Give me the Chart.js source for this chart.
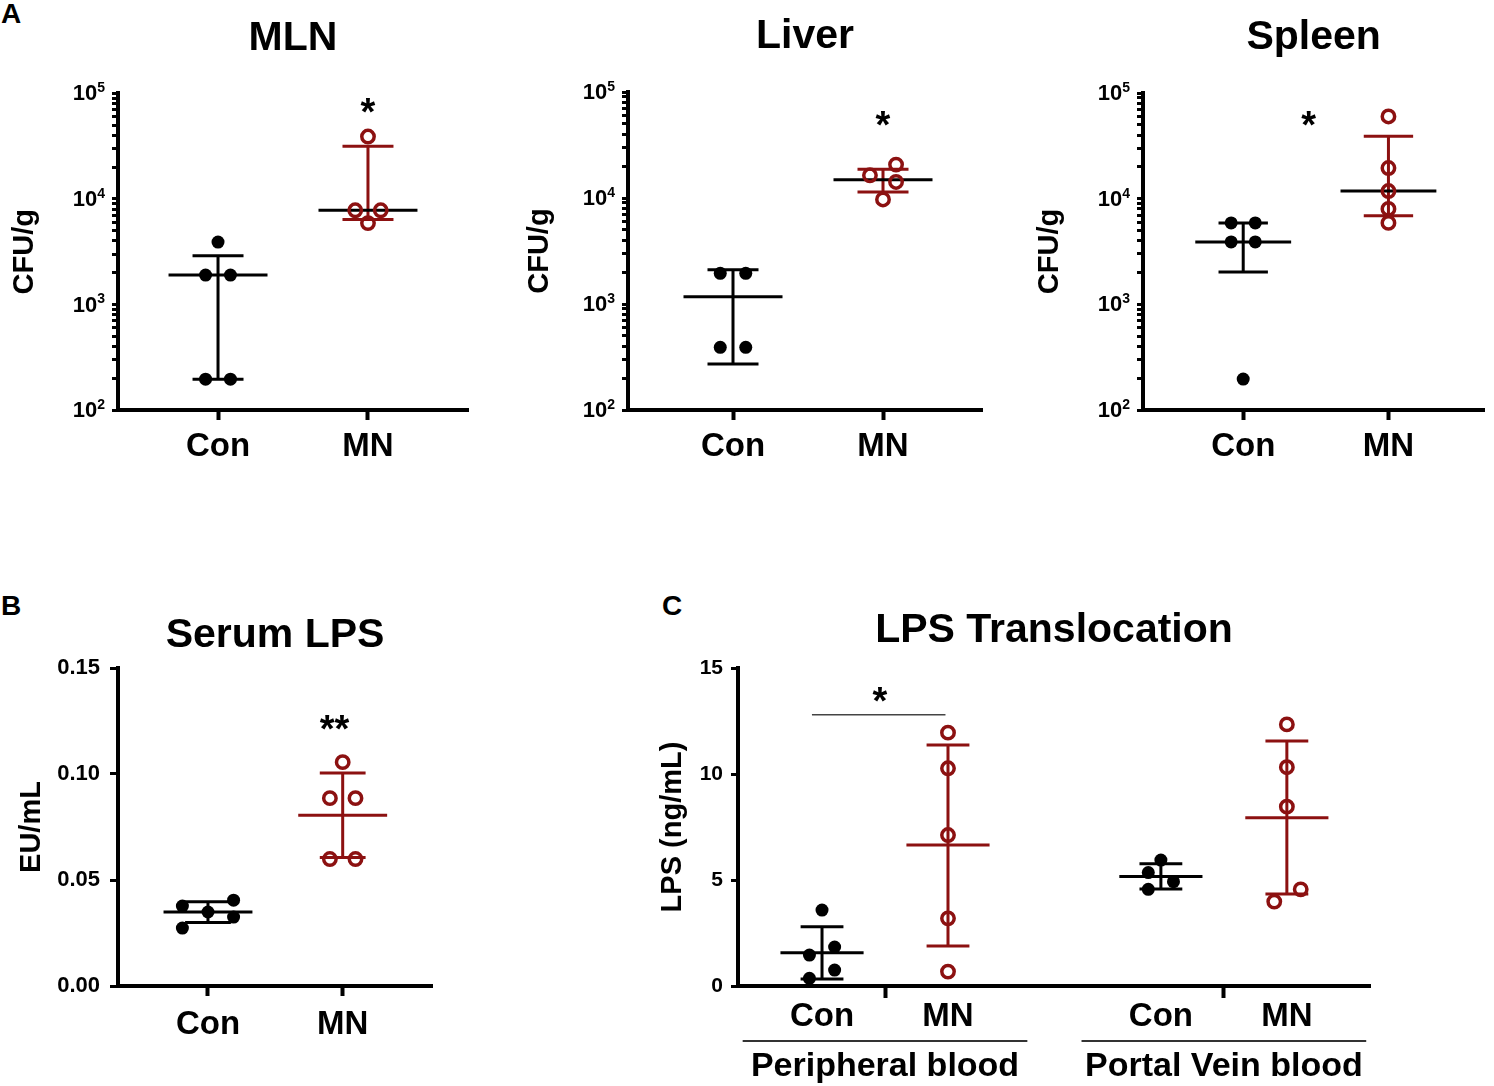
<!DOCTYPE html>
<html lang="en">
<head>
<meta charset="UTF-8">
<meta name="viewport" content="width=device-width, initial-scale=1">
<title>Bacterial and LPS translocation</title>
<script src="https://cdn.jsdelivr.net/npm/chart.js"></script>
<style>
  html, body { margin: 0; padding: 0; background: #fff; }
  body { position: relative; width: 1494px; height: 1086px; overflow: hidden; font-family: 'Liberation Sans', Arial, sans-serif; }
  .box { position: absolute; }
  .letter { position: absolute; font-size: 28px; font-weight: bold; color: #000; line-height: 1; }
</style>
</head>
<body>
  <div class="letter" style="left:1px; top:0px">A</div>
  <div class="letter" style="left:1px; top:592px">B</div>
  <div class="letter" style="left:662px; top:592px">C</div>

  <div class="box" style="left:0; top:0; width:490px; height:490px"><canvas id="chartMLN"></canvas></div>
  <div class="box" style="left:510px; top:0; width:490px; height:490px"><canvas id="chartLiver"></canvas></div>
  <div class="box" style="left:1025px; top:0; width:469px; height:490px"><canvas id="chartSpleen"></canvas></div>
  <div class="box" style="left:0; top:580px; width:470px; height:506px"><canvas id="chartSerum"></canvas></div>
  <div class="box" style="left:640px; top:580px; width:854px; height:506px"><canvas id="chartTrans"></canvas></div>

  <script>
    // ---- A: bacterial load, CFU/g (log axis) ----
    const groupLabels = ['Con', 'MN'];
    const cfuDecades = [100, 1000, 10000, 100000];
    const cfuBase = '10';
    const cfuExponents = ['2', '3', '4', '5'];

    const mlnCon = [3900, 1900, 1900, 196, 196];
    const mlnMN = [39000, 7800, 7800, 5900];
    const mlnMedian = [1900, 7800];
    const mlnLow = [196, 6400];
    const mlnHigh = [2900, 31500];
    const mlnStar = [1, 80000];

    const liverCon = [1950, 1950, 390, 390];
    const liverMN = [16400, 20700, 14200, 9700];
    const liverMedian = [1170, 14900];
    const liverLow = [272, 11400];
    const liverHigh = [2110, 18700];
    const liverStar = [1, 58000];

    const spleenCon = [5900, 5900, 3900, 3900, 196];
    const spleenMN = [60000, 19500, 11800, 8000, 5900];
    const spleenMedian = [3900, 11800];
    const spleenLow = [2020, 6900];
    const spleenHigh = [5900, 39000];
    const spleenStar = [0.45, 59300];

    // ---- B: serum LPS, EU/mL ----
    const serumTicks = [0, 0.05, 0.10, 0.15];
    const serumTickLabels = ['0.00', '0.05', '0.10', '0.15'];
    const serumCon = [0.0377, 0.0349, 0.0405, 0.0325, 0.0273];
    const serumMN = [0.1056, 0.0886, 0.0886, 0.0599, 0.0599];
    const serumCentre = [0.0349, 0.0806];
    const serumLow = [0.0300, 0.0606];
    const serumHigh = [0.0397, 0.1005];
    const serumStar = [0.94, 0.1250];

    // ---- C: LPS translocation, ng/mL ----
    const transGroups = ['Peripheral blood', 'Portal Vein blood'];
    const transLabels = ['Con', 'MN', 'Con', 'MN'];
    const transTicks = [0, 5, 10, 15];
    const transTickLabels = ['0', '5', '10', '15'];
    const periCon = [3.58, 1.46, 1.84, 0.75, 0.36];
    const periMN = [11.95, 10.27, 7.12, 3.19, 0.68];
    const portalCon = [5.94, 5.35, 4.92, 4.56];
    const portalMN = [12.34, 10.32, 8.46, 4.56, 3.98];
    const transMean = [1.57, 6.65, 5.16, 7.94];
    const transLow = [0.33, 1.89, 4.58, 4.34];
    const transHigh = [2.80, 11.37, 5.77, 11.56];
    const transStar = [0.46, 13.8];
    const transBracket = [-0.08, 0.98, 12.8];

    // layout: where the groups sit on the x axis and how the dots are spread sideways
    const groupX = [0, 1];
    const transX = [0, 1, 2.69, 3.69];
    const transSeparators = [0.5, 3.19];
    const mlnSpread = [[0, -0.083, 0.083, -0.083, 0.083], [0, -0.085, 0.085, 0]];
    const liverSpread = [[-0.085, 0.085, -0.085, 0.085], [-0.087, 0.087, 0.087, 0]];
    const spleenSpread = [[-0.083, 0.083, -0.083, 0.083, 0], [0, 0, 0, 0, 0]];
    const serumSpread = [[-0.19, 0, 0.19, 0.19, -0.19], [0, -0.095, 0.095, -0.095, 0.095]];
    const transSpread = [[0, -0.1, 0.1, 0.1, -0.1], [0, 0, 0, 0, 0], [0, -0.1, 0.1, -0.1], [0, 0, 0, 0.11, -0.1]];

    const FONT = "'Liberation Sans', Arial, Helvetica, sans-serif";
    const RED = '#8c1111';
    const CAP = 0.17;
    const MID = 0.33;
    Chart.defaults.font.family = FONT;
    Chart.defaults.color = '#000';

    function place(values, gx, spread) {
      return values.map((v, i) => ({ x: gx + spread[i], y: v }));
    }

    function filledSet(data) {
      return { data, clip: false, pointRadius: 6.5, pointHoverRadius: 6.5, pointBackgroundColor: '#000', pointBorderWidth: 0 };
    }

    function openSet(data) {
      return { data, clip: false, pointRadius: 6.2, pointHoverRadius: 6.2, pointBackgroundColor: 'rgba(0,0,0,0)', pointBorderColor: RED, pointBorderWidth: 3.5 };
    }

    // median / mean lines with whiskers, drawn with the chart's own scales
    function summaryBars(xs, centre, low, high, barColors, centreColors) {
      return {
        id: 'summaryBars',
        beforeDatasetsDraw(chart) {
          const { ctx, scales: { x, y } } = chart;
          const unit = x.getPixelForValue(1) - x.getPixelForValue(0);
          ctx.save();
          ctx.lineWidth = 3;
          xs.forEach((gx, i) => {
            const px = x.getPixelForValue(gx);
            const yl = y.getPixelForValue(low[i]);
            const yh = y.getPixelForValue(high[i]);
            const yc = y.getPixelForValue(centre[i]);
            ctx.strokeStyle = barColors[i];
            ctx.beginPath();
            ctx.moveTo(px, yl); ctx.lineTo(px, yh);
            ctx.moveTo(px - CAP * unit, yl); ctx.lineTo(px + CAP * unit, yl);
            ctx.moveTo(px - CAP * unit, yh); ctx.lineTo(px + CAP * unit, yh);
            ctx.stroke();
            ctx.strokeStyle = centreColors[i];
            ctx.beginPath();
            ctx.moveTo(px - MID * unit, yc); ctx.lineTo(px + MID * unit, yc);
            ctx.stroke();
          });
          ctx.restore();
        }
      };
    }

    // significance asterisks (and the bracket line in panel C)
    function stars(pos, text, bracket) {
      return {
        id: 'stars',
        afterDatasetsDraw(chart) {
          const { ctx, scales: { x, y } } = chart;
          ctx.save();
          if (bracket) {
            const by = y.getPixelForValue(bracket[2]);
            ctx.strokeStyle = '#444';
            ctx.lineWidth = 1.5;
            ctx.beginPath();
            ctx.moveTo(x.getPixelForValue(bracket[0]), by);
            ctx.lineTo(x.getPixelForValue(bracket[1]), by);
            ctx.stroke();
          }
          ctx.fillStyle = '#000';
          ctx.font = 'bold 38px ' + FONT;
          ctx.textAlign = 'center';
          ctx.textBaseline = 'alphabetic';
          ctx.fillText(text, x.getPixelForValue(pos[0]), y.getPixelForValue(pos[1]) + 0.55 * 38);
          ctx.restore();
        }
      };
    }

    // "10" with a raised exponent on each decade of the log axis
    const powerLabels = {
      id: 'powerLabels',
      afterDraw(chart) {
        const { ctx, scales: { y } } = chart;
        const right = y.right - 13;
        ctx.save();
        ctx.fillStyle = '#000';
        ctx.textAlign = 'right';
        ctx.textBaseline = 'middle';
        cfuDecades.forEach((d, i) => {
          const py = y.getPixelForValue(d);
          ctx.font = 'bold 14px ' + FONT;
          const ew = ctx.measureText(cfuExponents[i]).width;
          ctx.fillText(cfuExponents[i], right, py - 5);
          ctx.font = 'bold 22px ' + FONT;
          ctx.fillText(cfuBase, right - ew, py + 1);
        });
        ctx.restore();
      }
    };

    // group names under the x axis of panel C
    const groupNames = {
      id: 'groupNames',
      afterDraw(chart) {
        const { ctx, chartArea, scales: { x } } = chart;
        const unit = x.getPixelForValue(1) - x.getPixelForValue(0);
        ctx.save();
        transGroups.forEach((name, i) => {
          const cx = x.getPixelForValue(transSeparators[i]);
          ctx.strokeStyle = '#333';
          ctx.lineWidth = 2;
          ctx.beginPath();
          ctx.moveTo(cx - 1.13 * unit, chartArea.bottom + 55);
          ctx.lineTo(cx + 1.13 * unit, chartArea.bottom + 55);
          ctx.stroke();
          ctx.fillStyle = '#000';
          ctx.font = 'bold 34px ' + FONT;
          ctx.textAlign = 'center';
          ctx.textBaseline = 'middle';
          ctx.fillText(name, cx, chartArea.bottom + 81);
        });
        ctx.restore();
      }
    };

    function xScale(o) {
      return {
        type: 'linear', min: o.min, max: o.max,
        afterBuildTicks: s => { s.ticks = o.ticks.map(v => ({ value: v })); },
        afterFit: s => { s.height = o.height; },
        ticks: {
          autoSkip: false, maxRotation: 0, minRotation: 0, padding: o.pad, color: '#000',
          font: { size: 33, weight: 'bold' },
          callback: (v, i) => o.labels[i]
        },
        grid: { drawOnChartArea: false, drawTicks: true, tickLength: o.tickLength, tickWidth: 4, tickColor: o.tickColor || '#000' },
        border: { display: true, width: 4, color: '#000' }
      };
    }

    function yScale(o) {
      return {
        type: o.type, min: o.min, max: o.max,
        afterBuildTicks: s => { s.ticks = o.ticks.map(v => ({ value: v })); },
        afterFit: s => { s.width = o.width; },
        ticks: {
          autoSkip: false, padding: o.pad, color: '#000',
          font: { size: o.fontSize || 21, weight: 'bold' },
          callback: o.label
        },
        grid: { drawOnChartArea: false, drawTicks: true, tickLength: o.tickLength, tickWidth: 3, tickColor: '#000' },
        border: { display: true, width: 4, color: '#000' },
        title: {
          display: true, text: o.title, color: '#000',
          font: { size: 29, weight: 'bold' },
          padding: { top: o.titlePad, bottom: 0 }
        }
      };
    }

    function options(o) {
      return {
        responsive: true,
        maintainAspectRatio: false,
        animation: false,
        events: [],
        layout: { padding: { left: 0, right: o.padRight, top: 0, bottom: 0 } },
        plugins: {
          legend: { display: false },
          tooltip: { enabled: false },
          title: {
            display: true, text: o.title, fullSize: false, color: '#000',
            font: { size: 41, weight: 'bold' },
            padding: { top: o.titleTop, bottom: o.titleBottom }
          }
        },
        scales: { x: o.x, y: o.y }
      };
    }

    // minor tick marks 1..9 x each decade; the decade labels come from powerLabels
    const cfuTicks = [];
    cfuDecades.forEach((d, i) => {
      if (i === cfuDecades.length - 1) { cfuTicks.push(d); return; }
      for (let k = 1; k <= 9; k++) cfuTicks.push(d * k);
    });

    function cfuPanel(id, title, con, mn, spread, median, low, high, star, lay) {
      return new Chart(document.getElementById(id), {
        type: 'scatter',
        data: {
          datasets: [
            filledSet(place(con, groupX[0], spread[0])),
            openSet(place(mn, groupX[1], spread[1]))
          ]
        },
        options: options({
          title, padRight: lay.padRight, titleTop: lay.titleTop, titleBottom: lay.titleBottom,
          x: xScale({ min: lay.xMin, max: lay.xMax, ticks: groupX, labels: groupLabels, height: 80, pad: 7, tickLength: 10 }),
          y: yScale({
            type: 'logarithmic', min: cfuDecades[0], max: cfuDecades[cfuDecades.length - 1],
            ticks: cfuTicks, label: () => '', width: 118, pad: 8, tickLength: 6,
            title: 'CFU/g', titlePad: lay.yTitlePad
          })
        }),
        plugins: [
          summaryBars(groupX, median, low, high, ['#000', RED], ['#000', '#000']),
          stars(star, '*'),
          powerLabels
        ]
      });
    }

    cfuPanel('chartMLN', 'MLN', mlnCon, mlnMN, mlnSpread, mlnMedian, mlnLow, mlnHigh, mlnStar,
      { padRight: 22, titleTop: 14, titleBottom: 30.2, xMin: -0.667, xMax: 1.667, yTitlePad: 7.6 });
    cfuPanel('chartLiver', 'Liver', liverCon, liverMN, liverSpread, liverMedian, liverLow, liverHigh, liverStar,
      { padRight: 18, titleTop: 12.4, titleBottom: 30.5, xMin: -0.7, xMax: 1.66, yTitlePad: 12.6 });
    cfuPanel('chartSpleen', 'Spleen', spleenCon, spleenMN, spleenSpread, spleenMedian, spleenLow, spleenHigh, spleenStar,
      { padRight: 0, titleTop: 13.2, titleBottom: 30.6, xMin: -0.69, xMax: 1.66, yTitlePad: 7.6 });

    new Chart(document.getElementById('chartSerum'), {
      type: 'scatter',
      data: {
        datasets: [
          filledSet(place(serumCon, groupX[0], serumSpread[0])),
          openSet(place(serumMN, groupX[1], serumSpread[1]))
        ]
      },
      options: options({
        title: 'Serum LPS', padRight: 38, titleTop: 30.6, titleBottom: 8.2,
        x: xScale({ min: -0.668, max: 1.663, ticks: groupX, labels: groupLabels, height: 100, pad: 9, tickLength: 10 }),
        y: yScale({
          type: 'linear', min: serumTicks[0], max: serumTicks[serumTicks.length - 1],
          ticks: serumTicks, label: (v, i) => serumTickLabels[i], width: 118, pad: 10, tickLength: 8, fontSize: 22,
          title: 'EU/mL', titlePad: 14.3
        })
      }),
      plugins: [
        summaryBars(groupX, serumCentre, serumLow, serumHigh, ['#000', RED], ['#000', RED]),
        stars(serumStar, '**')
      ]
    });

    const transTickPos = [transX[0], transSeparators[0], transX[1], transX[2], transSeparators[1], transX[3]];
    const transTickText = [transLabels[0], '', transLabels[1], transLabels[2], '', transLabels[3]];

    new Chart(document.getElementById('chartTrans'), {
      type: 'scatter',
      data: {
        datasets: [
          filledSet(place(periCon, transX[0], transSpread[0])),
          openSet(place(periMN, transX[1], transSpread[1])),
          filledSet(place(portalCon, transX[2], transSpread[2])),
          openSet(place(portalMN, transX[3], transSpread[3]))
        ]
      },
      options: options({
        title: 'LPS Translocation', padRight: 124, titleTop: 25.6, titleBottom: 13.2,
        x: xScale({
          min: -0.667, max: 4.35, ticks: transTickPos, labels: transTickText, height: 100, pad: -1, tickLength: 12,
          tickColor: c => transSeparators.includes(c.tick && c.tick.value) ? '#000' : 'rgba(0,0,0,0)'
        }),
        y: yScale({
          type: 'linear', min: transTicks[0], max: transTicks[transTicks.length - 1],
          ticks: transTicks, label: (v, i) => transTickLabels[i], width: 98, pad: 8, tickLength: 7,
          title: 'LPS (ng/mL)', titlePad: 15.6
        })
      }),
      plugins: [
        summaryBars(transX, transMean, transLow, transHigh, ['#000', RED, '#000', RED], ['#000', RED, '#000', RED]),
        stars(transStar, '*', transBracket),
        groupNames
      ]
    });
  </script>
</body>
</html>
